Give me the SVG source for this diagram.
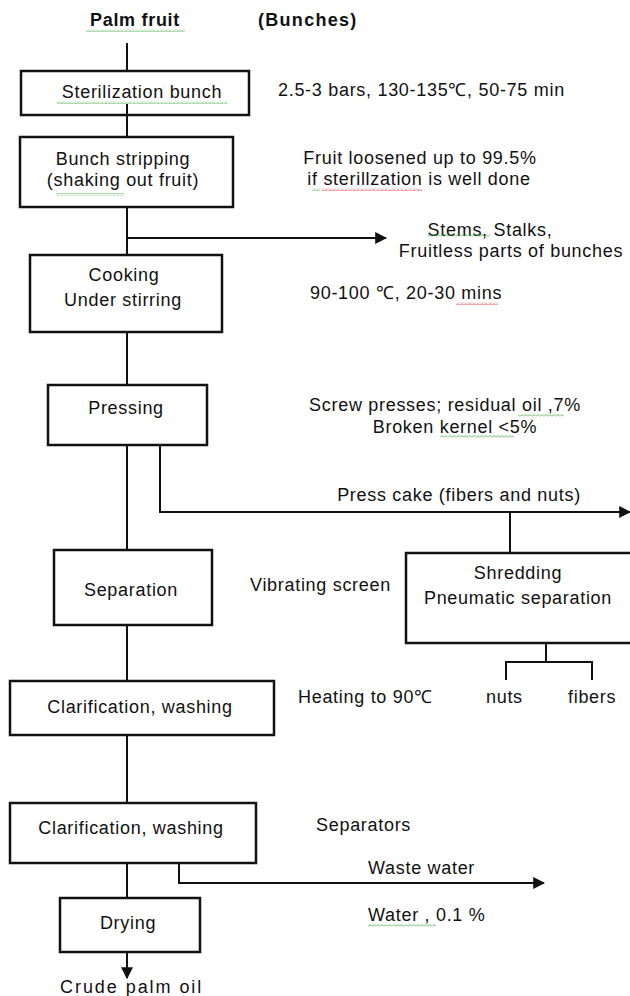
<svg xmlns="http://www.w3.org/2000/svg" width="630" height="996" viewBox="0 0 630 996">
<style>
text{font-family:"Liberation Sans",Arial,sans-serif;font-size:18px;fill:#111;letter-spacing:0.7px}
.b{font-weight:bold}
.m{text-anchor:middle}
.box{fill:#fff;stroke:#111;stroke-width:2.5}
.ln{stroke:#111;stroke-width:2;fill:none}
</style>
<defs>
<marker id="ah" viewBox="0 0 10 10" refX="9" refY="5" markerWidth="6" markerHeight="6" orient="auto" markerUnits="strokeWidth">
<path d="M0,0L10,5L0,10z" fill="#111"/>
</marker>
<pattern id="sg" width="4" height="3" patternUnits="userSpaceOnUse"><path d="M0,2.5L2,0.5L4,2.5" fill="none" stroke="#3a3" stroke-width="0.8"/></pattern>
<pattern id="sr" width="4" height="3" patternUnits="userSpaceOnUse"><path d="M0,2.5L2,0.5L4,2.5" fill="none" stroke="#e22" stroke-width="0.8"/></pattern>
</defs>
<rect width="630" height="996" fill="#fff"/>
<g id="connectors">
<line class="ln" x1="127" y1="43" x2="127" y2="71"/>
<line class="ln" x1="127" y1="104" x2="127" y2="137"/>
<line class="ln" x1="127" y1="207" x2="127" y2="256"/>
<line class="ln" x1="127" y1="238" x2="386" y2="238" marker-end="url(#ah)"/>
<line class="ln" x1="127" y1="332" x2="127" y2="385"/>
<line class="ln" x1="127" y1="445" x2="127" y2="550"/>
<polyline class="ln" points="160,445 160,512 630,512" marker-end="url(#ah)"/>
<line class="ln" x1="510" y1="512" x2="510" y2="553"/>
<line class="ln" x1="546" y1="643" x2="546" y2="662"/>
<polyline class="ln" points="506,680 506,662 592,662 592,680"/>
<line class="ln" x1="127" y1="625" x2="127" y2="681"/>
<line class="ln" x1="127" y1="735" x2="127" y2="803"/>
<line class="ln" x1="127" y1="863" x2="127" y2="898"/>
<polyline class="ln" points="179,863 179,883 544,883" marker-end="url(#ah)"/>
<line class="ln" x1="127" y1="952" x2="127" y2="978" marker-end="url(#ah)"/>
</g>
<g id="title">
<text class="b m" x="135" y="26">Palm  fruit</text>
<text class="b" x="258" y="26" textLength="99">(Bunches)</text>
</g>
<g id="n1"><rect class="box" x="21" y="71" width="228" height="44"/><text class="m" x="142" y="98">Sterilization  bunch</text></g>
<line class="ln" x1="127" y1="104" x2="127" y2="115"/>
<g id="n2"><rect class="box" x="20" y="137" width="213" height="70"/><text class="m" x="123" y="165">Bunch stripping</text><text class="m" x="123" y="186">(shaking out fruit)</text></g>
<g id="n3"><rect class="box" x="30" y="255" width="192" height="77"/><text class="m" x="124" y="281">Cooking</text><text class="m" x="123" y="306">Under stirring</text></g>
<g id="n4"><rect class="box" x="48" y="385" width="159" height="60"/><text class="m" x="126" y="414">Pressing</text></g>
<g id="n5"><rect class="box" x="54" y="550" width="158" height="75"/><text class="m" x="131" y="596">Separation</text></g>
<g id="n6"><rect class="box" x="406" y="553" width="226" height="90"/><text class="m" x="518" y="579">Shredding</text><text class="m" x="518" y="604">Pneumatic separation</text></g>
<g id="n7"><rect class="box" x="10" y="681" width="264" height="54"/><text class="m" x="140" y="713">Clarification, washing</text></g>
<g id="n8"><rect class="box" x="10" y="803" width="246" height="60"/><text class="m" x="131" y="834">Clarification, washing</text></g>
<g id="n9"><rect class="box" x="60" y="898" width="140" height="54"/><text class="m" x="128" y="929">Drying</text></g>
<g id="labels">
<text x="278" y="96">2.5-3 bars, 130-135℃, 50-75 min</text>
<text class="m" x="420" y="164">Fruit loosened up to 99.5%</text>
<text class="m" x="419" y="185">if sterillzation is well done</text>
<text class="m" x="490" y="236">Stems, Stalks,</text>
<text class="m" x="511" y="257">Fruitless parts of bunches</text>
<text x="310" y="299">90-100 ℃, 20-30 mins</text>
<text class="m" x="445" y="411">Screw presses; residual oil ,7%</text>
<text class="m" x="455" y="433">Broken kernel  &lt;5%</text>
<text class="m" x="459" y="501">Press cake (fibers and nuts)</text>
<text x="250" y="591">Vibrating screen</text>
<text x="298" y="703">Heating to 90℃</text>
<text x="486" y="703">nuts</text>
<text x="568" y="703">fibers</text>
<text x="316" y="831">Separators</text>
<text x="368" y="874">Waste water</text>
<text x="368" y="921">Water , 0.1 %</text>
<text x="60" y="993" textLength="142">Crude  palm  oil</text>
</g>
<g id="squiggles">
<rect x="86" y="29" width="99" height="3" fill="url(#sg)"/>
<rect x="57" y="101" width="170" height="3" fill="url(#sg)"/>
<rect x="56" y="193" width="68" height="3" fill="url(#sg)"/>
<rect x="312" y="188" width="8" height="3" fill="url(#sg)"/>
<rect x="322" y="188" width="100" height="3" fill="url(#sr)"/>
<rect x="428" y="234" width="62" height="3" fill="url(#sg)"/>
<rect x="456" y="302" width="42" height="3" fill="url(#sr)"/>
<rect x="518" y="414" width="46" height="3" fill="url(#sg)"/>
<rect x="440" y="435" width="74" height="3" fill="url(#sg)"/>
<rect x="368" y="924" width="68" height="3" fill="url(#sg)"/>
</g>
</svg>
